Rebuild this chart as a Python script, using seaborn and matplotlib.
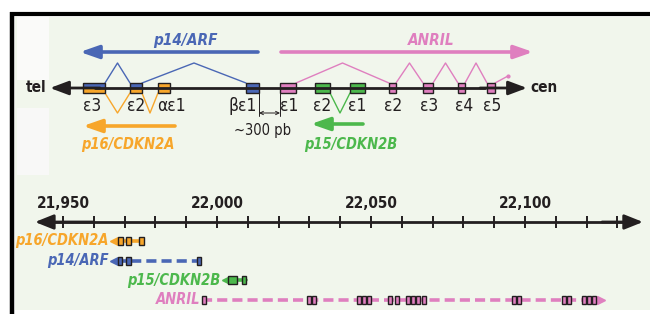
import matplotlib
matplotlib.use("Agg")
import matplotlib.pyplot as plt
from matplotlib.patches import Rectangle
import seaborn as sns

# ---------------------------------------------------------------
# data
# ---------------------------------------------------------------
# top schematic: exons along the drawn locus (schematic units, tel -> cen)
exon_names = ["ε3", "ε2", "αε1", "βε1", "ε1", "ε2", "ε1", "ε2", "ε3", "ε4", "ε5"]
exon_start = [83, 130, 158, 246, 280, 315, 350, 389, 423, 458, 487]
exon_end = [105, 142, 170, 259, 296, 330, 365, 396, 433, 465, 495]
exon_owner = ["p14/p16", "p14/p16", "p16", "p14", "ANRIL", "p15", "p15",
              "ANRIL", "ANRIL", "ANRIL", "ANRIL"]

# splicing of each transcript (indices into the exon lists above)
p14_splice = [3, 1, 0]
p16_splice = [2, 1, 0]
p15_splice = [6, 5]
anril_splice = [4, 7, 8, 9, 10]

# bottom: genomic coordinates (kb)
axis_ticks = list(range(21950, 22131, 10))
axis_labels = [21950, 22000, 22050, 22100]

gene_names = ["p16/CDKN2A", "p14/ARF", "p15/CDKN2B", "ANRIL"]
p16_exons = [(21967.9, 21969.5), (21970.5, 21972.1), (21974.7, 21976.3)]
p14_exons = [(21967.9, 21969.2), (21970.5, 21972.1), (21993.5, 21994.8)]
p15_exons = [(22003.6, 22006.5), (22008.1, 22009.4)]
anril_exons = [(21995.1, 21996.4), (22029.2, 22030.5), (22030.8, 22032.1),
               (22045.5, 22046.8), (22047.1, 22048.4), (22048.7, 22050.0),
               (22055.5, 22056.8), (22057.8, 22059.1), (22061.4, 22062.7),
               (22063.0, 22064.3), (22064.6, 22065.9), (22066.6, 22067.9),
               (22095.8, 22097.1), (22097.4, 22098.7), (22112.0, 22113.3),
               (22113.6, 22114.9), (22118.5, 22119.8), (22120.1, 22121.4),
               (22121.8, 22123.1)]
gene_tss = [21965.3, 21965.3, 22001.6, 21995.1]   # arrow tips
gene_ends = [21976.3, 21994.8, 22009.4, 22126.0]
gene_strand = [-1, -1, -1, 1]

# ---------------------------------------------------------------
# style
# ---------------------------------------------------------------
sns.set_theme(style="white")
plt.rcParams["font.family"] = ["DejaVu Sans"]
plt.rcParams["font.stretch"] = "condensed"

BLUE = "#4a67b5"
ORANGE = "#f7a62b"
PINK = "#df7fbf"
GREEN = "#4cb84c"
INK = "#231f20"
BG = "#f1f6ec"
gene_colors = [ORANGE, BLUE, GREEN, PINK]

fig = plt.figure(figsize=(6.5, 3.14), dpi=100)
ax = fig.add_axes([0, 0, 1, 1])
ax.set_xlim(0, 650)
ax.set_ylim(314, 0)
ax.axis("off")

# panel background + frame
ax.add_patch(Rectangle((15, 17), 640, 293, color=BG, lw=0, zorder=0))
ax.add_patch(Rectangle((17, 17), 32, 63, color="#fafaf9", lw=0, zorder=0))
ax.add_patch(Rectangle((17, 108), 32, 67, color="#f8f8f7", lw=0, zorder=0))
ax.plot([12, 12], [12, 314], color="black", lw=3.2, solid_capstyle="butt")
ax.plot([10, 650], [13.5, 13.5], color="black", lw=3.0, solid_capstyle="butt")

# ---------------------------------------------------------------
# top schematic
# ---------------------------------------------------------------
LINE_Y = 88
HALF = 5
PEAK = 24


def arrow(a, tail, tip, color, lw, scale, hl=0.8, hw=0.28):
    a.annotate("", xy=tip, xytext=tail,
               arrowprops=dict(arrowstyle=f"-|>,head_length={hl},head_width={hw}",
                               color=color, lw=lw, shrinkA=0, shrinkB=0,
                               mutation_scale=scale))


def splice(order, side, color):
    for a, b in zip(order[:-1], order[1:]):
        left, right = min(exon_end[a], exon_end[b]), max(exon_start[a], exon_start[b])
        y_edge = LINE_Y - HALF if side > 0 else LINE_Y + HALF
        y_peak = y_edge - side * (PEAK - HALF + 1)
        sns.lineplot(x=[left, (left + right) / 2, right], y=[y_edge, y_peak, y_edge],
                     ax=ax, color=color, lw=1.0, sort=False, estimator=None)


splice(p14_splice, 1, BLUE)
splice(p16_splice, -1, ORANGE)
splice(p15_splice, -1, GREEN)
splice(anril_splice, 1, PINK)
# ANRIL continues beyond e5
sns.lineplot(x=[exon_end[10], 508], y=[LINE_Y - HALF, 76], ax=ax, color=PINK,
             lw=1.0, sort=False, estimator=None)
ax.plot([508], [76], "o", color=PINK, ms=2)

# exon boxes
owner_color = {"p16": ORANGE, "p14": BLUE, "p15": GREEN, "ANRIL": PINK}
for s, e, own in zip(exon_start, exon_end, exon_owner):
    if own == "p14/p16":
        ax.add_patch(Rectangle((s, LINE_Y - HALF), e - s, HALF, color=BLUE, lw=0, zorder=3))
        ax.add_patch(Rectangle((s, LINE_Y), e - s, HALF, color=ORANGE, lw=0, zorder=3))
    else:
        ax.add_patch(Rectangle((s, LINE_Y - HALF), e - s, 2 * HALF,
                               color=owner_color[own], lw=0, zorder=3))
    ax.add_patch(Rectangle((s, LINE_Y - HALF), e - s, 2 * HALF, fill=False,
                           ec=INK, lw=1.0, zorder=4))

# chromosome line tel <-> cen
arrow(ax, (100, LINE_Y), (50, LINE_Y), INK, 2.0, 14, hl=0.8, hw=0.3)
arrow(ax, (480, LINE_Y), (527, LINE_Y), INK, 2.0, 14, hl=0.8, hw=0.3)
ax.plot([95, 485], [LINE_Y, LINE_Y], color=INK, lw=2.0, zorder=5)
ax.text(47, LINE_Y, "tel", ha="right", va="center", fontsize=11,
        fontweight="bold", color=INK)
ax.text(530, LINE_Y, "cen", ha="left", va="center", fontsize=11,
        fontweight="bold", color=INK)

label_x = [92, 136, 171, 243, 289, 322, 357, 393, 429, 464, 492]
for lx, name in zip(label_x, exon_names):
    ax.text(lx, 106, name, ha="center", va="center", fontsize=12.5, color=INK)

# ~300 pb gap
ax.plot([259, 259], [93, 116], color=INK, lw=0.7)
ax.plot([280, 280], [93, 116], color=INK, lw=0.7)
ax.annotate("", xy=(259, 113), xytext=(280, 113),
            arrowprops=dict(arrowstyle="<->", color=INK, lw=0.7, shrinkA=0,
                            shrinkB=0, mutation_scale=6))
ax.text(263, 131, "~300 pb", ha="center", va="center", fontsize=10.5, color=INK)

# transcript arrows + names
GENE_FS = 10.5
arrow(ax, (258, 52), (80, 52), BLUE, 2.6, 14)
arrow(ax, (281, 52), (533, 52), PINK, 2.6, 14)
arrow(ax, (175, 126), (83, 126), ORANGE, 2.6, 14)
arrow(ax, (363, 124), (311, 124), GREEN, 2.6, 14)
ax.text(185, 45, "p14/ARF", ha="center", va="baseline", fontsize=11,
        fontweight="bold", fontstyle="italic", color=BLUE)
ax.text(431, 45, "ANRIL", ha="center", va="baseline", fontsize=11,
        fontweight="bold", fontstyle="italic", color=PINK)
ax.text(128, 149, "p16/CDKN2A", ha="center", va="baseline", fontsize=GENE_FS,
        fontweight="bold", fontstyle="italic", color=ORANGE)
ax.text(351, 149, "p15/CDKN2B", ha="center", va="baseline", fontsize=GENE_FS,
        fontweight="bold", fontstyle="italic", color=GREEN)

# ---------------------------------------------------------------
# bottom: genomic map (kb)
# ---------------------------------------------------------------
ax2 = fig.add_axes([0, 0, 1, 1])
ax2.patch.set_alpha(0)
ax2.set_xlim(21929.55, 22140.58)
ax2.set_ylim(314, 0)
ax2.axis("off")

AXIS_Y = 222
track_y = [241, 260.5, 280, 299.5]
BOX_H = 8

arrow(ax2, (21960, AXIS_Y), (21940.9, AXIS_Y), INK, 2.0, 14, hl=0.8, hw=0.32)
arrow(ax2, (22125, AXIS_Y), (22138.3, AXIS_Y), INK, 2.0, 14, hl=0.8, hw=0.32)
ax2.plot([21945, 22134], [AXIS_Y, AXIS_Y], color=INK, lw=2.0)
ax2.vlines(axis_ticks, AXIS_Y - 6, AXIS_Y + 6, color=INK, lw=1.4)
for t in axis_labels:
    ax2.text(t, 203, f"{t:,}", ha="center", va="center", fontsize=11,
             fontweight="bold", color=INK)

all_exons = [p16_exons, p14_exons, p15_exons, anril_exons]
for i, (name, exons, col) in enumerate(zip(gene_names, all_exons, gene_colors)):
    y = track_y[i]
    tss, end, strand = gene_tss[i], gene_ends[i], gene_strand[i]
    if strand < 0:
        x_line = [tss + 2, end]
        label_x_kb = tss - 0.4
    else:
        x_line = [tss, end - 2]
        label_x_kb = tss - 0.5
    ls = "-" if name == "p15/CDKN2B" else (0, (2.8, 1.4))
    sns.lineplot(x=x_line, y=[y, y], ax=ax2, color=col, lw=2.6,
                 linestyle=ls, sort=False, estimator=None, zorder=2)
    if strand < 0:
        ax2.plot([tss + 1.2], [y], marker="<", color=col, ms=6, zorder=3)
    else:
        ax2.plot([end - 1.2], [y], marker=">", color=col, ms=6, zorder=3)
    for s, e in exons:
        ax2.add_patch(Rectangle((s, y - BOX_H / 2), e - s, BOX_H, fc=col,
                                ec=INK, lw=1.0, zorder=4))
    ax2.text(label_x_kb, y, name, ha="right", va="center", fontsize=GENE_FS,
             fontweight="bold", fontstyle="italic", color=col)

fig.savefig("out.png", dpi=100)
